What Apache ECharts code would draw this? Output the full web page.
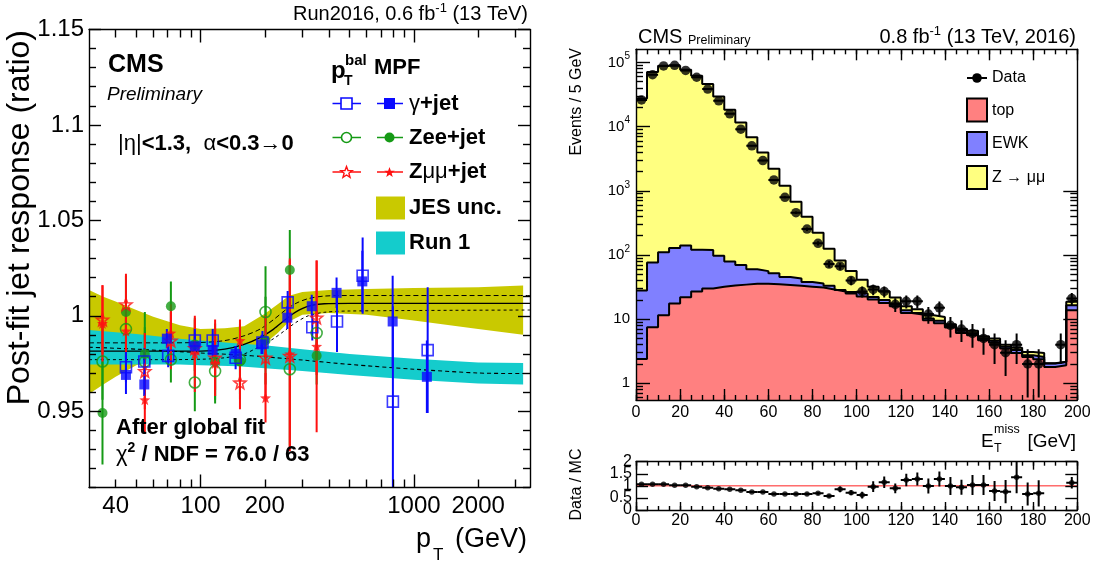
<!DOCTYPE html>
<html>
<head>
<meta charset="utf-8">
<script src="https://cdn.jsdelivr.net/npm/echarts@6/dist/echarts.min.js"></script>
<style>
html, body { margin: 0; padding: 0; background: #fff; }
#chart { width: 1096px; height: 566px; }
</style>
</head>
<body>
<div id="chart"></div>
<script>
// ===================== Left panel: jet response after global fit =====================
const pTTickLabels = [40, 100, 200, 1000, 2000];
const pTMajorTicks = [100, 1000];
const pTMinorTicks = [40, 50, 60, 70, 80, 90, 200, 300, 400, 500, 600, 700, 800, 900, 2000, 3000];
const respTickLabels = [0.95, 1, 1.05, 1.1, 1.15];

// gamma+jet, MPF (filled) and pT balance (open)
const gjetMpfPt  = [44.7, 54.5, 69.5, 94, 114, 146, 193, 255, 332, 434, 573, 795, 1150];
const gjetMpf    = [0.969, 0.964, 0.988, 0.984, 0.982, 0.980, 0.985, 0.999, 1.005, 1.012, 1.018, 0.997, 0.968];
const gjetMpfErr = [0.010, 0.006, 0.005, 0.005, 0.004, 0.004, 0.005, 0.006, 0.006, 0.008, 0.016, 0.024, 0.019];
const gjetBalPt  = [44.7, 54.5, 70.5, 94, 114, 146, 195, 256, 334, 436, 575, 797, 1160];
const gjetBal    = [0.973, 0.976, 0.979, 0.987, 0.987, 0.978, 0.986, 1.007, 0.994, 0.997, 1.021, 0.955, 0.982];
const gjetBalErr = [0.008, 0.007, 0.006, 0.006, 0.006, 0.006, 0.006, 0.006, 0.007, 0.016, 0.020, 0.050, 0.033];

// Z(ee)+jet
const zeePt      = [34.7, 44.7, 54.8, 72.6, 94, 117, 153, 201.6, 262, 350];
const zeeMpf     = [0.949, 1.002, 0.980, 1.005, 0.985, 0.976, 0.976, 0.987, 1.024, 0.979];
const zeeMpfErr  = [0.027, 0.019, 0.022, 0.013, 0.014, 0.020, 0.020, 0.023, 0.021, 0.015];
const zeeBal     = [0.976, 0.993, 0.976, 0.977, 0.965, 0.971, 0.977, 1.002, 0.972, 0.991];
const zeeBalErr  = [0.020, 0.015, 0.018, 0.012, 0.015, 0.017, 0.018, 0.024, 0.040, 0.012];

// Z(mumu)+jet
const zmmPt      = [34.7, 44.7, 54.8, 72.6, 94, 117, 153, 201.6, 262, 350];
const zmmMpf     = [0.996, 0.992, 0.956, 0.991, 0.980, 0.975, 0.987, 0.957, 0.980, 0.984];
const zmmMpfErr  = [0.020, 0.014, 0.017, 0.015, 0.020, 0.014, 0.011, 0.013, 0.050, 0.045];
const zmmBal     = [0.998, 1.006, 0.971, 0.987, 0.983, 0.978, 0.965, 0.978, 0.979, 0.999];
const zmmBalErr  = [0.018, 0.016, 0.020, 0.015, 0.015, 0.020, 0.014, 0.022, 0.050, 0.030];

// JES uncertainty band and fitted response
const jesPt = [30, 35, 40, 50, 60, 80, 100, 130, 160, 200, 230, 260, 300, 400, 600, 1000, 2000, 3250];
const jesLo = [0.959, 0.964, 0.968, 0.974, 0.977, 0.979, 0.9795, 0.980, 0.9805, 0.9855, 0.991, 0.997, 1.0005, 1.0015, 1.0005, 0.9975, 0.993, 0.990];
const jesHi = [1.0135, 1.010, 1.0075, 1.003, 0.9995, 0.995, 0.993, 0.9935, 0.9945, 1.001, 1.006, 1.0105, 1.0125, 1.0135, 1.014, 1.0145, 1.015, 1.0158];
const fitPt      = [30, 60, 100, 130, 160, 190, 220, 250, 280, 320, 380, 500, 3500];
const fitCentral = [0.9815, 0.9815, 0.9815, 0.9825, 0.985, 0.9885, 0.993, 0.998, 1.002, 1.005, 1.0063, 1.0065, 1.0065];
const fitUp      = [0.9858, 0.9858, 0.986, 0.987, 0.9895, 0.993, 0.998, 1.003, 1.0065, 1.009, 1.0103, 1.0106, 1.0106];
const fitDown    = [0.977, 0.977, 0.9772, 0.978, 0.980, 0.984, 0.988, 0.9925, 0.9965, 1.000, 1.0018, 1.0025, 1.003];

// Run 1 reference band
const run1Pt  = [30, 50, 80, 100, 150, 200, 300, 500, 1000, 2000, 3250];
const run1Lo  = [0.9745, 0.9745, 0.9745, 0.974, 0.9735, 0.9725, 0.971, 0.969, 0.9665, 0.9645, 0.964];
const run1Hi  = [0.9925, 0.9905, 0.988, 0.987, 0.9855, 0.9845, 0.9825, 0.980, 0.9775, 0.9755, 0.9753];
const run1Mid = [0.9835, 0.9825, 0.9812, 0.9805, 0.9795, 0.9785, 0.9768, 0.9745, 0.972, 0.970, 0.9697];

// ===================== Right panel: missing ET distribution =====================
const metEdges = [0, 5, 10, 15, 20, 25, 30, 35, 40, 45, 50, 55, 60, 65, 70, 75, 80, 85, 90, 95, 100,
                  105, 110, 115, 120, 125, 130, 135, 140, 145, 150, 155, 160, 165, 170, 175, 180, 185, 190, 195, 200];
const topYield = [2.4, 7.5, 11.5, 17.5, 22, 27, 30, 32, 33.5, 34.5, 35.5, 35.5, 35, 34, 33, 32, 31, 29, 27, 25,
                  22.5, 20.2, 17.9, 15.9, 12.5, 11.8, 9.6, 8.6, 7.4, 6.1, 5.6, 4.7, 4.27, 3.5, 2.97, 2.58, 2.37, 1.8, 1.91, 13.8];
const ewkYield = [25.6, 68.5, 98.5, 110.5, 119, 94, 89, 65, 45.5, 35.5, 24.5, 20.5, 17, 11.5, 10, 6, 5, 4, 1.5, 1.5,
                  2.5, 2.0, 1.9, 1.6, 1.3, 0.7, 0.6, 0.8, 0.45, 0.5, 0.4, 0.3, 0.33, 0.2, 0.33, 0.16, 0.21, 0.23, 0.24, 2.7];
const zmmYield = [27470, 70720, 88690, 88670, 76760, 61880, 45880, 29400, 18220, 11530, 6780, 3880, 2160, 1155, 633, 356, 186, 92, 53.5, 29.5,
                  16, 9.7, 7.5, 4.3, 2.1, 1.8, 1.3, 1.4, 0.45, 0.5, 0.6, 0.4, 0.4, 0.3, 0.3, 0.34, 0.39, 0.02, 0.02, 2.1];
const dataYield = [26000, 64300, 88000, 90000, 75000, 58700, 38400, 25200, 15800, 9120, 5010, 2950, 1475, 792, 455, 253, 152, 72, 67, 40,
                   27, 29, 27, 17, 19, 19, 12, 15, 8, 7, 6, 5, 4, 3, 4, 2, 2, null, 4, 21];
const dataErr   = [160, 250, 300, 300, 270, 240, 200, 160, 126, 95, 71, 54, 38, 28, 21, 16, 12, 8.5, 8.2, 6.3,
                   5.2, 5.4, 5.2, 4.1, 4.4, 4.4, 3.5, 3.9, 2.8, 2.6, 2.4, 2.2, 2.0, 1.7, 2.0, 1.4, 1.4, null, 2.0, 4.6];
const ratioVal = [1.064, 1.064, 1.064, 1.02, 1.02, 0.966, 0.925, 0.883, 0.856, 0.814, 0.745, 0.745, 0.662, 0.662, 0.662, 0.662, 0.69, 0.58, 0.856, 0.718,
                  0.62, 0.966, 1.146, 0.897, 1.242, 1.283, 0.994, 1.283, 0.994, 0.938, 1.035, 1.035, 0.787, 0.759, 1.353, 0.662, 0.69, null, null, 1.13];
const ratioErr = [0.01, 0.01, 0.01, 0.01, 0.01, 0.01, 0.01, 0.01, 0.01, 0.015, 0.015, 0.02, 0.03, 0.04, 0.05, 0.05, 0.06, 0.06, 0.12, 0.10,
                  0.14, 0.22, 0.24, 0.20, 0.26, 0.27, 0.31, 0.31, 0.37, 0.31, 0.41, 0.41, 0.41, 0.48, 0.66, 0.48, 0.54, null, null, 0.24];
const ratioTickLabels = [0, 1, 2];
const ratioHalfLabels = [0.5, 1.5];
const metMajorStep = 20;
const metMinorStep = 5;

// ===================== helpers =====================
const FONT = "'Liberation Sans', Arial, Helvetica, sans-serif";
const lg = Math.log10;
const BLUE = '#0a0aff', GREEN = '#159a15', RED = '#ff1010';
const JES_COLOR = '#c9c900', RUN1_COLOR = '#14cccc';
const FILL_TOP = '#ff8080', FILL_EWK = '#8080ff', FILL_ZMM = '#ffff80';
const frame = { color: '#000', width: 1.4 };

const pTMin = lg(30), pTMax = lg(3500);
const evMin = lg(0.55), evMax = lg(1.6e5);

function starPts(cx, cy, R) {
  const pts = [];
  for (let k = 0; k < 10; k++) {
    const r = k % 2 ? R * 0.42 : R;
    const a = -Math.PI / 2 + k * Math.PI / 5;
    pts.push([cx + r * Math.cos(a), cy + r * Math.sin(a)]);
  }
  return pts;
}
const STAR = 'path://' + starPts(0, 0, 10).map((p, i) => (i ? 'L' : 'M') + p[0].toFixed(2) + ',' + p[1].toFixed(2)).join(' ') + 'Z';

function ax(o) {
  const base = {
    type: 'value', z: 10, splitLine: { show: false }, silent: true,
    axisLabel: { show: false }, axisTick: { show: false }
  };
  const out = Object.assign(base, o);
  out.axisLine = Object.assign({ show: false, onZero: false, lineStyle: frame }, o.axisLine || {});
  return out;
}
function ticks(values, len) {
  return { show: true, inside: true, length: len, customValues: values, lineStyle: frame };
}
function evenTicks(len) {
  return { show: true, inside: true, length: len, lineStyle: frame };
}

function errBars(xs, vs, es, color) {
  return {
    type: 'custom', xAxisIndex: 0, yAxisIndex: 0, clip: true, silent: true, z: 4,
    data: xs.map((x, i) => [lg(x), vs[i] - es[i], vs[i] + es[i]]),
    encode: { x: 0, y: [1, 2] },
    renderItem: (p, api) => {
      const a = api.coord([api.value(0), api.value(1)]);
      const b = api.coord([api.value(0), api.value(2)]);
      return { type: 'line', shape: { x1: a[0], y1: a[1], x2: b[0], y2: b[1] }, style: { stroke: color, lineWidth: 2 } };
    }
  };
}
function markers(xs, vs, symbol, size, color, open) {
  return {
    type: 'scatter', xAxisIndex: 0, yAxisIndex: 0, symbol, symbolSize: size, silent: true, z: 5,
    data: xs.map((x, i) => [lg(x), vs[i]]),
    itemStyle: open ? { color: 'rgba(255,255,255,0)', borderColor: color, borderWidth: 1.6 } : { color, borderWidth: 0 }
  };
}
function band(xs, lo, hi, color) {
  return {
    type: 'custom', xAxisIndex: 0, yAxisIndex: 0, clip: true, silent: true, z: 2,
    data: xs.map((x, i) => [lg(x), lo[i], hi[i]]),
    encode: { x: 0, y: [1, 2] },
    renderItem: (p, api) => {
      if (p.dataIndex !== 0) return null;
      const pts = [];
      for (let i = 0; i < xs.length; i++) pts.push(api.coord([lg(xs[i]), hi[i]]));
      for (let i = xs.length - 1; i >= 0; i--) pts.push(api.coord([lg(xs[i]), lo[i]]));
      return { type: 'polygon', shape: { points: pts }, style: { fill: color } };
    }
  };
}
function curve(xs, ys, type, width) {
  return {
    type: 'line', xAxisIndex: 0, yAxisIndex: 0, symbol: 'none', silent: true, smooth: 0.3, z: 3,
    data: xs.map((x, i) => [lg(x), ys[i]]),
    lineStyle: { color: '#000', width: width || 1, type: type || 'solid' }
  };
}

// cumulative stack: top, top+EWK, top+EWK+Z
const cumTop = topYield.slice();
const cumEwk = topYield.map((v, i) => v + ewkYield[i]);
const cumAll = cumEwk.map((v, i) => v + zmmYield[i]);

function histLayer(cum, fill) {
  return {
    type: 'line', xAxisIndex: 4, yAxisIndex: 4, step: 'end', symbol: 'none', silent: true, z: 2,
    data: metEdges.map((e, i) => [e, lg(cum[Math.min(i, cum.length - 1)])]),
    lineStyle: { color: '#000', width: 2 },
    areaStyle: { color: fill, opacity: 1, origin: 'start' }
  };
}

const binHalf = (metEdges[1] - metEdges[0]) / 2;
const dataPts = [];
dataYield.forEach((v, i) => { if (v != null) dataPts.push([metEdges[i] + binHalf, v, dataErr[i]]); });
const ratioPts = [];
ratioVal.forEach((v, i) => { if (v != null) ratioPts.push([metEdges[i] + binHalf, v, ratioErr[i]]); });

function crossBars(points, xi, yi, toY, width) {
  return {
    type: 'custom', xAxisIndex: xi, yAxisIndex: yi, clip: true, silent: true, z: 6,
    data: points,
    encode: { x: 0, y: 1 },
    renderItem: (p, api) => {
      const x = api.value(0), v = api.value(1), e = api.value(2);
      const yc = toY(v), y1 = toY(Math.max(v - e, 1e-4)), y2 = toY(v + e);
      const a = api.coord([x, y1]), b = api.coord([x, y2]);
      const l = api.coord([x - binHalf, yc]), r = api.coord([x + binHalf, yc]);
      return {
        type: 'group', children: [
          { type: 'line', shape: { x1: a[0], y1: a[1], x2: b[0], y2: b[1] }, style: { stroke: '#000', lineWidth: width } },
          { type: 'line', shape: { x1: l[0], y1: l[1], x2: r[0], y2: r[1] }, style: { stroke: '#000', lineWidth: width } }
        ]
      };
    }
  };
}

// log tick positions for the event axis
const evMajor = [0, 1, 2, 3, 4, 5];
const evMinor = [];
for (let n = -1; n <= 5; n++) for (let k = 2; k <= 9; k++) {
  const t = lg(k * Math.pow(10, n));
  if (t > evMin && t < evMax) evMinor.push(t);
}
const respMinor = [];
for (let k = 91; k <= 114; k++) if (k % 5 !== 0) respMinor.push(k / 100);

// ===================== text helpers =====================
function txt(x, y, text, o) {
  o = o || {};
  const st = {
    text, fill: '#000', fontFamily: FONT, fontSize: o.size || 16,
    fontWeight: o.bold ? 'bold' : 'normal', fontStyle: o.italic ? 'italic' : 'normal',
    align: o.align || 'left', textAlign: o.align || 'left',
    verticalAlign: 'middle', textVerticalAlign: 'middle'
  };
  if (o.rich) st.rich = o.rich;
  return { type: 'text', x, y, z: 100, silent: true, rotation: o.rot || 0, style: st };
}
function richSet(size, bold) {
  const w = bold ? 'bold' : 'normal';
  return {
    a: { fontSize: size, fontFamily: FONT, fontWeight: w, color: '#000', lineHeight: Math.round(size * 1.25), verticalAlign: 'middle' },
    n: { fontSize: size, fontFamily: FONT, fontWeight: 'normal', color: '#000', lineHeight: Math.round(size * 1.25), verticalAlign: 'middle' },
    b: { fontSize: size, fontFamily: FONT, fontWeight: 'bold', color: '#000', lineHeight: Math.round(size * 1.25), verticalAlign: 'middle' },
    s: { fontSize: Math.round(size * 0.65), fontFamily: FONT, fontWeight: w, color: '#000', lineHeight: Math.round(size * 0.7), verticalAlign: 'top' }
  };
}
function line(x1, y1, x2, y2, color, w, dash) {
  return { type: 'line', z: 100, silent: true, shape: { x1, y1, x2, y2 }, style: { stroke: color, lineWidth: w || 1.5, lineDash: dash || null } };
}

const legendRows = [103.5, 137.5, 172];
const graphics = [
  // left panel labels
  txt(528, 14, '{a|Run2016, 0.6 fb}{s|-1}{a| (13 TeV)}', { rich: richSet(20, false), align: 'right' }),
  txt(108, 65, 'CMS', { size: 25, bold: true }),
  txt(107, 95, 'Preliminary', { size: 19, italic: true }),
  txt(118, 144, '{n||η|}{b|<1.3,  }{n|α}{b|<0.3→0}', { rich: richSet(22, true) }),
  txt(331, 71, 'p', { size: 24, bold: true }),
  txt(345, 61, 'bal', { size: 15, bold: true }),
  txt(344, 81, 'T', { size: 14, bold: true }),
  txt(374, 68, 'MPF', { size: 22, bold: true }),
  txt(116, 428, 'After global fit', { size: 22, bold: true }),
  txt(116, 455, '{n|χ}{s|2}{b| / NDF = 76.0 / 63}', { rich: richSet(22, true) }),
  txt(20, 30, 'Post-fit jet response (ratio)', { size: 32, align: 'right', rot: Math.PI / 2 }),
  txt(527, 539.5, '(GeV)', { size: 27, align: 'right' }),
  txt(416, 539.5, 'p', { size: 27 }),
  txt(433, 555, 'T', { size: 17 }),
  // left legend
  line(332.5, legendRows[0], 361, legendRows[0], BLUE), line(377, legendRows[0], 403, legendRows[0], BLUE),
  line(332.5, legendRows[1], 361, legendRows[1], GREEN), line(377, legendRows[1], 403, legendRows[1], GREEN),
  line(332.5, legendRows[2], 361, legendRows[2], RED), line(377, legendRows[2], 403, legendRows[2], RED),
  { type: 'rect', z: 101, silent: true, shape: { x: 341, y: legendRows[0] - 5.5, width: 11, height: 11 }, style: { fill: '#fff', stroke: BLUE, lineWidth: 1.6 } },
  { type: 'rect', z: 101, silent: true, shape: { x: 384, y: legendRows[0] - 5.5, width: 11, height: 11 }, style: { fill: BLUE } },
  { type: 'circle', z: 101, silent: true, shape: { cx: 346.5, cy: legendRows[1], r: 5 }, style: { fill: '#fff', stroke: GREEN, lineWidth: 1.6 } },
  { type: 'circle', z: 101, silent: true, shape: { cx: 389.5, cy: legendRows[1], r: 5 }, style: { fill: GREEN } },
  { type: 'polygon', z: 101, silent: true, shape: { points: starPts(346.5, legendRows[2] + 0.5, 6) }, style: { fill: '#fff', stroke: RED, lineWidth: 1.4 } },
  { type: 'polygon', z: 101, silent: true, shape: { points: starPts(389.5, legendRows[2] + 0.5, 5.5) }, style: { fill: RED } },
  txt(409, legendRows[0], '{n|γ}{b|+jet}', { rich: richSet(22, true) }),
  txt(409, legendRows[1], 'Zee+jet', { size: 22, bold: true }),
  txt(409, legendRows[2], '{b|Z}{n|μμ}{b|+jet}', { rich: richSet(22, true) }),
  { type: 'rect', z: 101, silent: true, shape: { x: 376, y: 196.5, width: 29, height: 23 }, style: { fill: JES_COLOR } },
  line(378, 208, 403, 208, '#555', 1, [3, 2]),
  { type: 'rect', z: 101, silent: true, shape: { x: 376, y: 231.5, width: 29, height: 23 }, style: { fill: RUN1_COLOR } },
  line(378, 243, 403, 243, '#333', 1, [3, 2]),
  txt(409, 208, 'JES unc.', { size: 22, bold: true }),
  txt(409, 243, 'Run 1', { size: 22, bold: true }),

  // right panel labels
  txt(638, 37.5, 'CMS', { size: 20 }),
  txt(688, 40.5, 'Preliminary', { size: 12.5 }),
  txt(1076, 37.5, '{a|0.8 fb}{s|-1}{a| (13 TeV, 2016)}', { rich: richSet(20, false), align: 'right' }),
  txt(576.5, 48, 'Events / 5 GeV', { size: 16, align: 'right', rot: Math.PI / 2 }),
  txt(577, 448.5, 'Data / MC', { size: 16, align: 'right', rot: Math.PI / 2 }),
  txt(1076, 441.5, '[GeV]', { size: 19, align: 'right' }),
  txt(981, 441.5, 'E', { size: 19 }),
  txt(994, 429.5, 'miss', { size: 12.5 }),
  txt(994, 448.5, 'T', { size: 12.5 }),
  // right legend
  line(967, 78, 987, 78, '#000', 2),
  { type: 'circle', z: 101, silent: true, shape: { cx: 977, cy: 78, r: 4.8 }, style: { fill: '#000' } },
  txt(992, 78, 'Data', { size: 16 }),
  { type: 'rect', z: 101, silent: true, shape: { x: 967, y: 98.5, width: 20, height: 23 }, style: { fill: FILL_TOP, stroke: '#000', lineWidth: 2 } },
  txt(992, 110.5, 'top', { size: 16 }),
  { type: 'rect', z: 101, silent: true, shape: { x: 967, y: 132, width: 20, height: 23 }, style: { fill: FILL_EWK, stroke: '#000', lineWidth: 2 } },
  txt(992, 143.5, 'EWK', { size: 16 }),
  { type: 'rect', z: 101, silent: true, shape: { x: 967, y: 166, width: 20, height: 23 }, style: { fill: FILL_ZMM, stroke: '#000', lineWidth: 2 } },
  txt(992, 177.5, 'Z → μμ', { size: 16 })
];

// ===================== axes =====================
const labelBase = { show: true, color: '#000', fontFamily: FONT, hideOverlap: false, showMinLabel: true, showMaxLabel: true, interval: 0 };

const xAxes = [
  // left panel
  ax({ gridIndex: 0, position: 'bottom', min: pTMin, max: pTMax, axisLine: { show: true },
       axisTick: ticks(pTMajorTicks.map(lg), 13),
       axisLabel: Object.assign({}, labelBase, { fontSize: 24, margin: 7, customValues: pTTickLabels.map(lg),
         formatter: v => String(Math.round(Math.pow(10, v))) }) }),
  ax({ gridIndex: 0, position: 'bottom', min: pTMin, max: pTMax, axisTick: ticks(pTMinorTicks.map(lg), 8) }),
  ax({ gridIndex: 0, position: 'top', min: pTMin, max: pTMax, axisLine: { show: true }, axisTick: ticks(pTMajorTicks.map(lg), 13) }),
  ax({ gridIndex: 0, position: 'top', min: pTMin, max: pTMax, axisTick: ticks(pTMinorTicks.map(lg), 8) }),
  // right main panel
  ax({ gridIndex: 1, position: 'bottom', min: 0, max: 200, interval: metMajorStep, axisLine: { show: true },
       axisTick: evenTicks(11),
       axisLabel: Object.assign({}, labelBase, { fontSize: 16, margin: 5 }) }),
  ax({ gridIndex: 1, position: 'bottom', min: 0, max: 200, interval: metMinorStep, axisTick: evenTicks(5) }),
  ax({ gridIndex: 1, position: 'top', min: 0, max: 200, interval: metMajorStep, axisLine: { show: true }, axisTick: evenTicks(11) }),
  ax({ gridIndex: 1, position: 'top', min: 0, max: 200, interval: metMinorStep, axisTick: evenTicks(5) }),
  // ratio panel
  ax({ gridIndex: 2, position: 'bottom', min: 0, max: 200, interval: metMajorStep, axisLine: { show: true },
       axisTick: evenTicks(8),
       axisLabel: Object.assign({}, labelBase, { fontSize: 16, margin: 3 }) }),
  ax({ gridIndex: 2, position: 'bottom', min: 0, max: 200, interval: metMinorStep, axisTick: evenTicks(4) }),
  ax({ gridIndex: 2, position: 'top', min: 0, max: 200, interval: metMajorStep, axisLine: { show: true }, axisTick: evenTicks(8) }),
  ax({ gridIndex: 2, position: 'top', min: 0, max: 200, interval: metMinorStep, axisTick: evenTicks(4) })
];

const yAxes = [
  // left panel
  ax({ gridIndex: 0, position: 'left', min: 0.91, max: 1.15, axisLine: { show: true },
       axisTick: ticks(respTickLabels, 12),
       axisLabel: Object.assign({}, labelBase, { fontSize: 24, margin: 5, customValues: respTickLabels,
         formatter: v => String(+(+v).toFixed(2)) }) }),
  ax({ gridIndex: 0, position: 'left', min: 0.91, max: 1.15, axisTick: ticks(respMinor, 7) }),
  ax({ gridIndex: 0, position: 'right', min: 0.91, max: 1.15, axisLine: { show: true }, axisTick: ticks(respTickLabels, 12) }),
  ax({ gridIndex: 0, position: 'right', min: 0.91, max: 1.15, axisTick: ticks(respMinor, 7) }),
  // right main panel (log10 of events)
  ax({ gridIndex: 1, position: 'left', min: evMin, max: evMax, axisLine: { show: true },
       axisTick: ticks(evMajor, 14),
       axisLabel: Object.assign({}, labelBase, { fontSize: 15, margin: 6, customValues: evMajor,
         formatter: v => { const n = Math.round(v); return n === 0 ? '1' : n === 1 ? '10' : '{b|10}{s|' + n + '}'; },
         rich: {
           b: { fontSize: 15, fontFamily: FONT, color: '#000', lineHeight: 22, verticalAlign: 'middle' },
           s: { fontSize: 10, fontFamily: FONT, color: '#000', lineHeight: 11, verticalAlign: 'top' }
         } }) }),
  ax({ gridIndex: 1, position: 'left', min: evMin, max: evMax, axisTick: ticks(evMinor, 7) }),
  ax({ gridIndex: 1, position: 'right', min: evMin, max: evMax, axisLine: { show: true }, axisTick: ticks(evMajor.filter(v => v <= 3), 14) }),
  ax({ gridIndex: 1, position: 'right', min: evMin, max: evMax, axisTick: ticks(evMinor.filter(v => v <= 3.01), 7) }),
  // ratio panel: integer labels on one axis, half-step labels on a companion axis
  ax({ gridIndex: 2, position: 'left', min: 0, max: 2, axisLine: { show: true },
       axisTick: ticks(ratioTickLabels.concat(ratioHalfLabels), 12),
       axisLabel: Object.assign({}, labelBase, { fontSize: 16, margin: 4, customValues: ratioTickLabels, formatter: v => String(v) }) }),
  ax({ gridIndex: 2, position: 'right', min: 0, max: 2, axisLine: { show: true }, axisTick: ticks(ratioTickLabels.concat(ratioHalfLabels), 12) }),
  ax({ gridIndex: 2, position: 'left', min: 0, max: 2,
       axisLabel: Object.assign({}, labelBase, { fontSize: 16, margin: 4, customValues: ratioHalfLabels, formatter: v => String(v) }) })
];

// ===================== series =====================
const series = [
  band(jesPt, jesLo, jesHi, JES_COLOR),
  band(run1Pt, run1Lo, run1Hi, RUN1_COLOR),
  curve(fitPt, fitUp, [5, 3], 1),
  curve(fitPt, fitDown, [3, 3], 1),
  curve(fitPt, fitCentral, 'solid', 1.3),
  curve(run1Pt, run1Mid, [4, 3], 1.1),

  errBars(zeePt, zeeBal, zeeBalErr, GREEN),
  errBars(zeePt, zeeMpf, zeeMpfErr, GREEN),
  errBars(zmmPt, zmmBal, zmmBalErr, RED),
  errBars(zmmPt, zmmMpf, zmmMpfErr, RED),
  errBars(gjetBalPt, gjetBal, gjetBalErr, BLUE),
  errBars(gjetMpfPt, gjetMpf, gjetMpfErr, BLUE),
  markers(zeePt, zeeBal, 'circle', 11, GREEN, true),
  markers(zeePt, zeeMpf, 'circle', 10, GREEN, false),
  markers(zmmPt, zmmBal, STAR, 12, RED, true),
  markers(zmmPt, zmmMpf, STAR, 11, RED, false),
  markers(gjetBalPt, gjetBal, 'rect', 11, BLUE, true),
  markers(gjetMpfPt, gjetMpf, 'rect', 10, BLUE, false),

  histLayer(cumAll, FILL_ZMM),
  histLayer(cumEwk, FILL_EWK),
  histLayer(cumTop, FILL_TOP),
  crossBars(dataPts, 4, 4, v => lg(v), 2),
  {
    type: 'scatter', xAxisIndex: 4, yAxisIndex: 4, symbol: 'circle', symbolSize: 9.5, silent: true, z: 7,
    data: dataPts.map(d => [d[0], lg(d[1])]), itemStyle: { color: '#000' }
  },

  {
    type: 'line', xAxisIndex: 8, yAxisIndex: 8, symbol: 'none', silent: true, z: 3,
    data: [[0, 1], [200, 1]], lineStyle: { color: '#ff2020', width: 1 }
  },
  crossBars(ratioPts, 8, 8, v => v, 2),
  {
    type: 'scatter', xAxisIndex: 8, yAxisIndex: 8, symbol: 'circle', symbolSize: 5.5, silent: true, z: 7,
    data: ratioPts.map(d => [d[0], d[1]]), itemStyle: { color: '#000' }
  }
];

const chart = echarts.init(document.getElementById('chart'), null, { renderer: 'canvas' });
chart.setOption({
  animation: false,
  backgroundColor: '#fff',
  textStyle: { fontFamily: FONT },
  grid: [
    { left: 89, top: 29.5, width: 441, height: 458, outerBoundsMode: 'none' },
    { left: 636, top: 49.3, width: 441.3, height: 350.7, outerBoundsMode: 'none' },
    { left: 636, top: 461.7, width: 441.3, height: 48.3, outerBoundsMode: 'none' }
  ],
  xAxis: xAxes,
  yAxis: yAxes,
  series,
  graphic: graphics
});
</script>
</body>
</html>
